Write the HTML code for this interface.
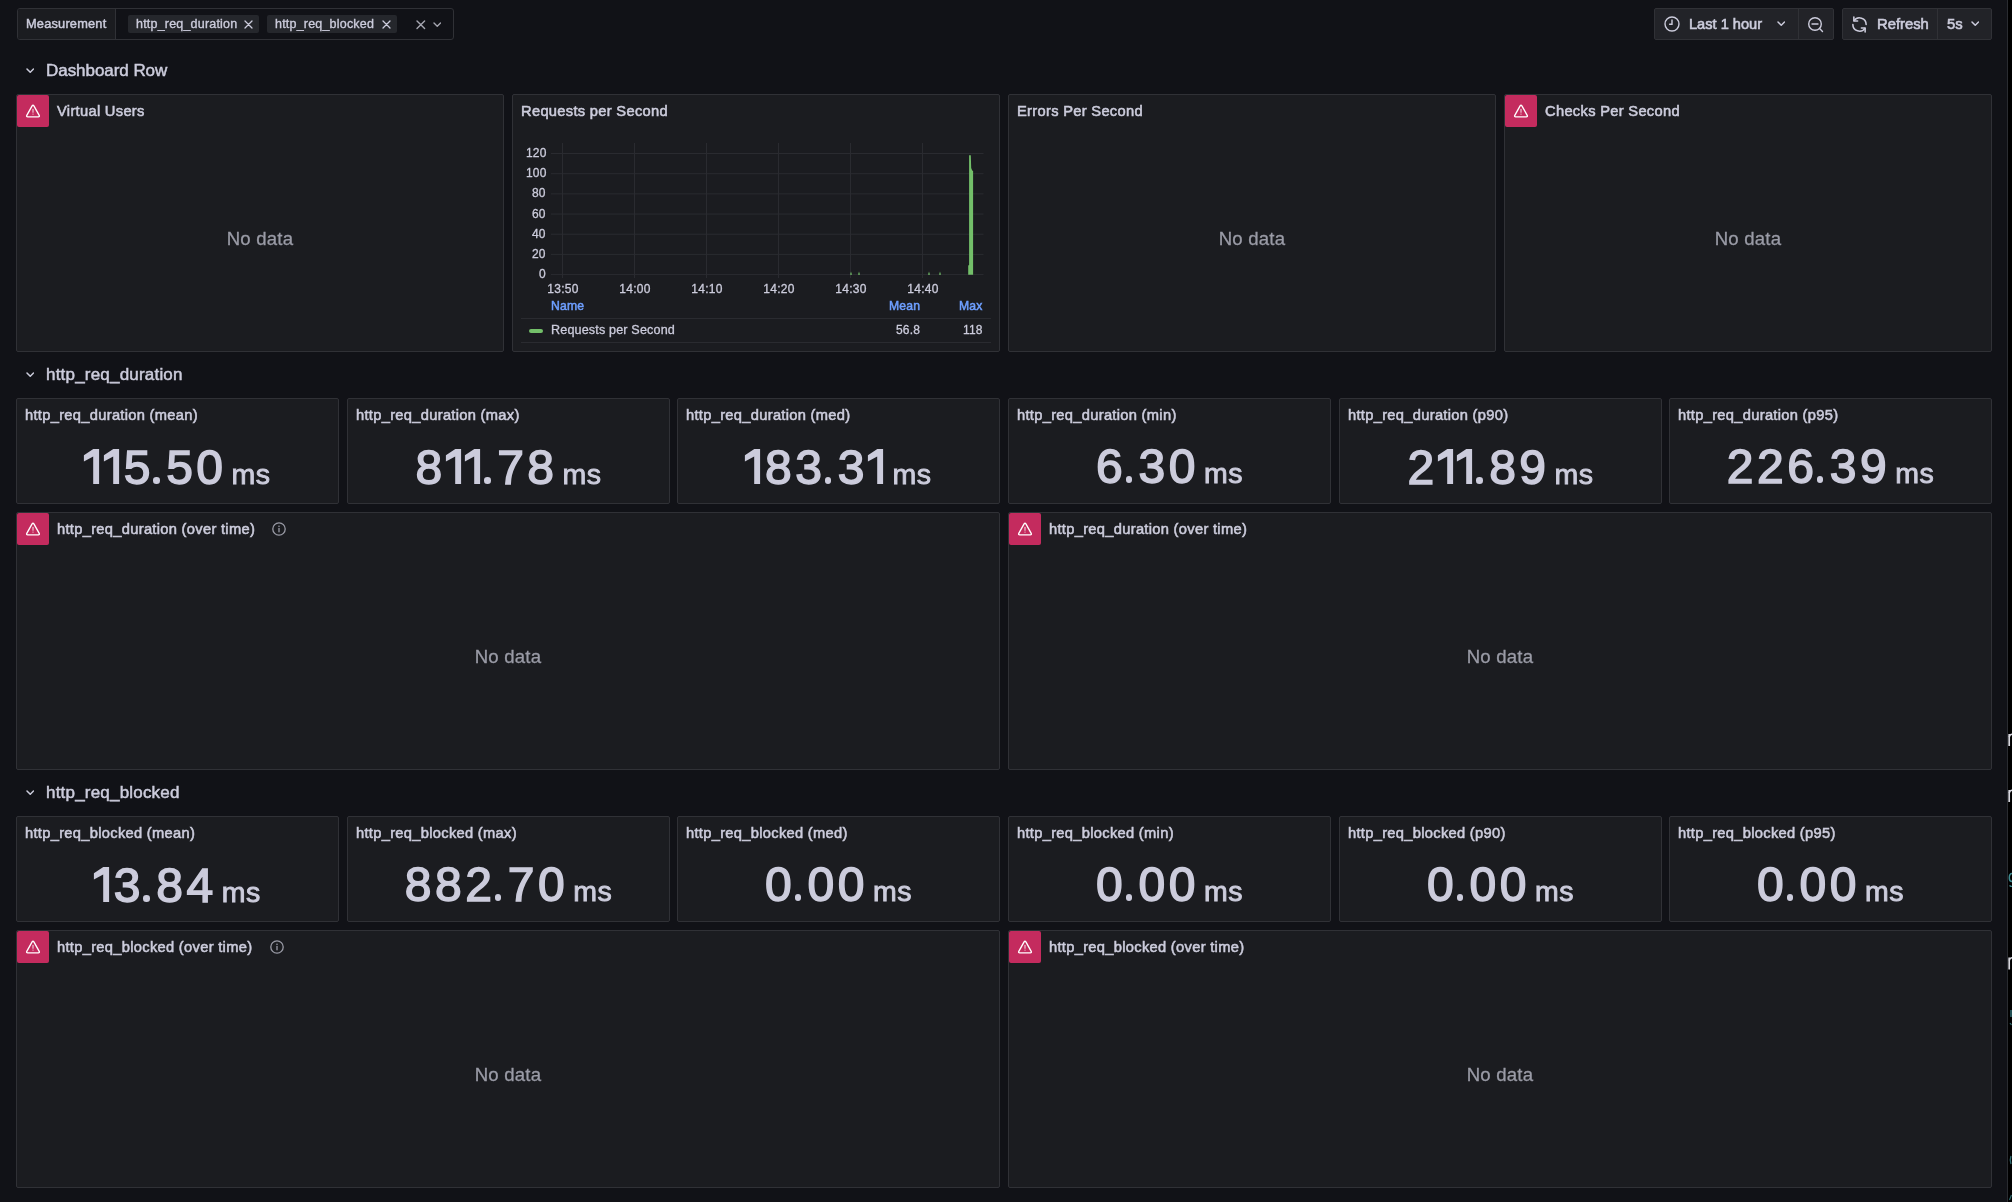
<!DOCTYPE html>
<html><head><meta charset="utf-8"><title>Grafana</title>
<style>
html,body{margin:0;padding:0;}
body{width:2012px;height:1202px;overflow:hidden;background:#111217;position:relative;font-family:"Liberation Sans", sans-serif;}
.t{position:absolute;white-space:nowrap;line-height:1;will-change:transform;}
svg{display:block;}
</style></head><body>
<div style="position:absolute;left:17px;top:8px;width:437px;height:32px;border:1px solid #303136;border-radius:3px;box-sizing:border-box;"></div>
<div style="position:absolute;left:18px;top:9px;width:98px;height:30px;background:#1b1c20;border-right:1px solid #303136;box-sizing:border-box;border-radius:2px 0 0 2px;"></div>
<div class="t" style="left:25.90px;top:16.00px;font-size:12.8px;color:#ccccdc;font-weight:400;line-height:15px;-webkit-text-stroke:0.45px #ccccdc;letter-spacing:0.2px;">Measurement</div>
<div style="position:absolute;left:128px;top:15px;width:131px;height:18px;background:#25272c;border-radius:2px;"></div>
<div class="t" style="left:136.00px;top:17.00px;font-size:12.5px;color:#ccccdc;font-weight:400;line-height:14px;-webkit-text-stroke:0.35px #ccccdc;letter-spacing:0.2px;">http_req_duration</div>
<svg style="position:absolute;left:243.5px;top:19.7px" width="9" height="9"><path d="M1 1 L8 8 M8 1 L1 8" fill="none" stroke="#ccccdc" stroke-width="1.3" stroke-linecap="round"/></svg>
<div style="position:absolute;left:267px;top:15px;width:130px;height:18px;background:#25272c;border-radius:2px;"></div>
<div class="t" style="left:275.00px;top:17.00px;font-size:12.5px;color:#ccccdc;font-weight:400;line-height:14px;-webkit-text-stroke:0.35px #ccccdc;letter-spacing:0.2px;">http_req_blocked</div>
<svg style="position:absolute;left:381.5px;top:19.7px" width="9" height="9"><path d="M1 1 L8 8 M8 1 L1 8" fill="none" stroke="#ccccdc" stroke-width="1.3" stroke-linecap="round"/></svg>
<svg style="position:absolute;left:416.0px;top:20.099999999999998px" width="9.6" height="9.6"><path d="M1 1 L8.6 8.6 M8.6 1 L1 8.6" fill="none" stroke="#a5a6b0" stroke-width="1.4" stroke-linecap="round"/></svg>
<svg style="position:absolute;left:432.55px;top:22.475px" width="8.5" height="5.25"><path d="M1 1 L4.25 4.25 L7.5 1" fill="none" stroke="#a5a6b0" stroke-width="1.4" stroke-linecap="round" stroke-linejoin="round"/></svg>
<div style="position:absolute;left:1654px;top:8px;width:180px;height:32px;background:#222328;border:1px solid #303136;border-radius:2px;box-sizing:border-box;"></div>
<div style="position:absolute;left:1798px;top:9px;width:1px;height:30px;background:#303136;"></div>
<svg style="position:absolute;left:1663px;top:15px" width="18" height="18" viewBox="0 0 18 18"><circle cx="9" cy="9" r="7" fill="none" stroke="#ccccdc" stroke-width="1.4"/><path d="M9 5 V9.3 H6.6" fill="none" stroke="#ccccdc" stroke-width="1.4" stroke-linecap="round"/></svg>
<div class="t" style="left:1689.00px;top:16.00px;font-size:14.6px;color:#ccccdc;font-weight:400;line-height:16px;-webkit-text-stroke:0.6px #ccccdc;">Last 1 hour</div>
<svg style="position:absolute;left:1776.55px;top:21.475px" width="8.5" height="5.25"><path d="M1 1 L4.25 4.25 L7.5 1" fill="none" stroke="#ccccdc" stroke-width="1.5" stroke-linecap="round" stroke-linejoin="round"/></svg>
<svg style="position:absolute;left:1806px;top:15px" width="20" height="20" viewBox="0 0 20 20"><circle cx="9" cy="9" r="6.3" fill="none" stroke="#ccccdc" stroke-width="1.4"/><path d="M6 9 H12" stroke="#ccccdc" stroke-width="1.4" stroke-linecap="round"/><path d="M13.6 13.6 L16.5 16.5" stroke="#ccccdc" stroke-width="1.4" stroke-linecap="round"/></svg>
<div style="position:absolute;left:1842px;top:8px;width:150px;height:32px;background:#222328;border:1px solid #303136;border-radius:2px;box-sizing:border-box;"></div>
<div style="position:absolute;left:1937px;top:9px;width:1px;height:30px;background:#303136;"></div>
<svg style="position:absolute;left:1849px;top:14px;transform:scaleX(-1)" width="21" height="21" viewBox="0 0 19 19"><path d="M15.5 9.5 A6 6 0 0 1 4.6 13" fill="none" stroke="#ccccdc" stroke-width="1.4" stroke-linecap="round"/><path d="M3.5 9.5 A6 6 0 0 1 14.4 6" fill="none" stroke="#ccccdc" stroke-width="1.4" stroke-linecap="round"/><path d="M14.6 2.8 V6.3 H11.2" fill="none" stroke="#ccccdc" stroke-width="1.4" stroke-linecap="round" stroke-linejoin="round"/><path d="M4.4 16.2 V12.7 H7.8" fill="none" stroke="#ccccdc" stroke-width="1.4" stroke-linecap="round" stroke-linejoin="round"/></svg>
<div class="t" style="left:1876.60px;top:16.00px;font-size:14.8px;color:#ccccdc;font-weight:400;line-height:16px;-webkit-text-stroke:0.6px #ccccdc;">Refresh</div>
<div class="t" style="left:1947.00px;top:16.00px;font-size:14.8px;color:#ccccdc;font-weight:400;line-height:16px;-webkit-text-stroke:0.6px #ccccdc;">5s</div>
<svg style="position:absolute;left:1970.55px;top:21.475px" width="8.5" height="5.25"><path d="M1 1 L4.25 4.25 L7.5 1" fill="none" stroke="#ccccdc" stroke-width="1.5" stroke-linecap="round" stroke-linejoin="round"/></svg>
<div style="position:absolute;left:2007px;top:0px;width:1px;height:1202px;background:#2a2c31;"></div>
<div style="position:absolute;left:2008px;top:0px;width:4px;height:1202px;background:#000;"></div>
<svg style="position:absolute;left:2008px;top:0" width="4" height="1202"><path d="M1.2 734 V746" stroke="#d8d8e0" stroke-width="1.7"/><path d="M1.2 737 Q2.2 734.3 4 734.3" fill="none" stroke="#d8d8e0" stroke-width="1.5"/><path d="M1.2 790 V802" stroke="#d8d8e0" stroke-width="1.7"/><path d="M1.2 793 Q2.2 790.3 4 790.3" fill="none" stroke="#d8d8e0" stroke-width="1.5"/><path d="M1.2 957.5 V969.5" stroke="#d8d8e0" stroke-width="1.7"/><path d="M1.2 960.5 Q2.2 957.8 4 957.8" fill="none" stroke="#d8d8e0" stroke-width="1.5"/><path d="M4 873.5 Q1.3 873.5 1.3 878 Q1.3 881.5 4 881.5" fill="none" stroke="#3e8b90" stroke-width="1.5"/><path d="M1.5 885.5 Q2.5 886.5 4 886.5" fill="none" stroke="#3e8b90" stroke-width="1.2"/><path d="M3 1010 V1017" stroke="#2f6d72" stroke-width="1.5"/><path d="M2 1023 L3.5 1025" stroke="#2f6d72" stroke-width="1.2"/><path d="M3 1156 Q1.5 1160 3 1164" fill="none" stroke="#2f6d72" stroke-width="1.3"/><path d="M1.5 1200 L3.5 1195" stroke="#2f6d72" stroke-width="1.2"/></svg>
<svg style="position:absolute;left:25.65px;top:68.175px" width="8.5" height="5.25"><path d="M1 1 L4.25 4.25 L7.5 1" fill="none" stroke="#ccccdc" stroke-width="1.5" stroke-linecap="round" stroke-linejoin="round"/></svg>
<div class="t" style="left:46.00px;top:61.00px;font-size:17px;color:#ccccdc;font-weight:400;line-height:19px;-webkit-text-stroke:0.5px #ccccdc;letter-spacing:-0.05px;">Dashboard Row</div>
<svg style="position:absolute;left:25.65px;top:372.175px" width="8.5" height="5.25"><path d="M1 1 L4.25 4.25 L7.5 1" fill="none" stroke="#ccccdc" stroke-width="1.5" stroke-linecap="round" stroke-linejoin="round"/></svg>
<div class="t" style="left:46.00px;top:365.00px;font-size:17px;color:#ccccdc;font-weight:400;line-height:19px;-webkit-text-stroke:0.5px #ccccdc;letter-spacing:0.2px;">http_req_duration</div>
<svg style="position:absolute;left:25.65px;top:790.175px" width="8.5" height="5.25"><path d="M1 1 L4.25 4.25 L7.5 1" fill="none" stroke="#ccccdc" stroke-width="1.5" stroke-linecap="round" stroke-linejoin="round"/></svg>
<div class="t" style="left:46.00px;top:783.00px;font-size:17px;color:#ccccdc;font-weight:400;line-height:19px;-webkit-text-stroke:0.5px #ccccdc;letter-spacing:0.2px;">http_req_blocked</div>
<div style="position:absolute;left:16px;top:94px;width:488px;height:258px;background:#1b1c20;border:1px solid #303136;border-radius:2px;box-sizing:border-box;"></div>
<div style="position:absolute;left:512px;top:94px;width:488px;height:258px;background:#1b1c20;border:1px solid #303136;border-radius:2px;box-sizing:border-box;"></div>
<div style="position:absolute;left:1008px;top:94px;width:488px;height:258px;background:#1b1c20;border:1px solid #303136;border-radius:2px;box-sizing:border-box;"></div>
<div style="position:absolute;left:1504px;top:94px;width:488px;height:258px;background:#1b1c20;border:1px solid #303136;border-radius:2px;box-sizing:border-box;"></div>
<div style="position:absolute;left:17px;top:95px;width:32px;height:32px;background:#c42b5e;border-radius:2px;display:flex;align-items:center;justify-content:center"><svg width="16" height="16" viewBox="0 0 16 16"><path d="M7.1 2.9 Q8 1.6 8.9 2.9 L14.2 12.3 Q14.9 13.8 13.3 13.8 L2.7 13.8 Q1.1 13.8 1.8 12.3 Z" fill="none" stroke="#fff" stroke-width="1.35" stroke-linejoin="round"/><path d="M8 6.4 V9.2" stroke="#f3d6e0" stroke-width="1.1" stroke-linecap="round"/><circle cx="8" cy="11.1" r="0.6" fill="#f3d6e0"/></svg></div>
<div class="t" style="left:57.00px;top:103.00px;font-size:14.7px;color:#ccccdc;font-weight:400;line-height:16px;-webkit-text-stroke:0.55px #ccccdc;letter-spacing:0.3px;">Virtual Users</div>
<div class="t" style="left:260.00px;transform:translateX(-50%);top:228.00px;font-size:18.6px;color:#9a9ba6;font-weight:400;line-height:21px;-webkit-text-stroke:0.3px #9a9ba6;letter-spacing:0.2px;">No data</div>
<div class="t" style="left:521.00px;top:103.00px;font-size:14.7px;color:#ccccdc;font-weight:400;line-height:16px;-webkit-text-stroke:0.55px #ccccdc;letter-spacing:0.3px;">Requests per Second</div>
<div class="t" style="left:1017.00px;top:103.00px;font-size:14.7px;color:#ccccdc;font-weight:400;line-height:16px;-webkit-text-stroke:0.55px #ccccdc;letter-spacing:0.3px;">Errors Per Second</div>
<div class="t" style="left:1252.00px;transform:translateX(-50%);top:228.00px;font-size:18.6px;color:#9a9ba6;font-weight:400;line-height:21px;-webkit-text-stroke:0.3px #9a9ba6;letter-spacing:0.2px;">No data</div>
<div style="position:absolute;left:1505px;top:95px;width:32px;height:32px;background:#c42b5e;border-radius:2px;display:flex;align-items:center;justify-content:center"><svg width="16" height="16" viewBox="0 0 16 16"><path d="M7.1 2.9 Q8 1.6 8.9 2.9 L14.2 12.3 Q14.9 13.8 13.3 13.8 L2.7 13.8 Q1.1 13.8 1.8 12.3 Z" fill="none" stroke="#fff" stroke-width="1.35" stroke-linejoin="round"/><path d="M8 6.4 V9.2" stroke="#f3d6e0" stroke-width="1.1" stroke-linecap="round"/><circle cx="8" cy="11.1" r="0.6" fill="#f3d6e0"/></svg></div>
<div class="t" style="left:1545.00px;top:103.00px;font-size:14.7px;color:#ccccdc;font-weight:400;line-height:16px;-webkit-text-stroke:0.55px #ccccdc;letter-spacing:0.3px;">Checks Per Second</div>
<div class="t" style="left:1748.00px;transform:translateX(-50%);top:228.00px;font-size:18.6px;color:#9a9ba6;font-weight:400;line-height:21px;-webkit-text-stroke:0.3px #9a9ba6;letter-spacing:0.2px;">No data</div>
<svg style="position:absolute;left:0;top:0" width="2012" height="400"><line x1="551" x2="983.5" y1="153.50" y2="153.50" stroke="#2a2b30" stroke-width="1"/><line x1="551" x2="983.5" y1="173.68" y2="173.68" stroke="#2a2b30" stroke-width="1"/><line x1="551" x2="983.5" y1="193.86" y2="193.86" stroke="#2a2b30" stroke-width="1"/><line x1="551" x2="983.5" y1="214.04" y2="214.04" stroke="#2a2b30" stroke-width="1"/><line x1="551" x2="983.5" y1="234.22" y2="234.22" stroke="#2a2b30" stroke-width="1"/><line x1="551" x2="983.5" y1="254.40" y2="254.40" stroke="#2a2b30" stroke-width="1"/><line x1="551" x2="983.5" y1="274.58" y2="274.58" stroke="#2a2b30" stroke-width="1"/><line x1="562.5" x2="562.5" y1="143" y2="278" stroke="#2a2b30" stroke-width="1"/><line x1="634.5" x2="634.5" y1="143" y2="278" stroke="#2a2b30" stroke-width="1"/><line x1="706.5" x2="706.5" y1="143" y2="278" stroke="#2a2b30" stroke-width="1"/><line x1="778.5" x2="778.5" y1="143" y2="278" stroke="#2a2b30" stroke-width="1"/><line x1="850.5" x2="850.5" y1="143" y2="278" stroke="#2a2b30" stroke-width="1"/><line x1="922.5" x2="922.5" y1="143" y2="278" stroke="#2a2b30" stroke-width="1"/><polygon points="968.2,274.7 968.2,265.5 969.1,265 969.1,155.3 970.8,155.3 971.2,168 972.2,170.6 973.1,171 973.1,274.7" fill="#73bf69"/><polygon points="850,274.7 851,271.5 852,274.7" fill="#73bf69"/><polygon points="858,274.7 859,271.5 860,274.7" fill="#73bf69"/><polygon points="928,274.7 929,271.5 930,274.7" fill="#73bf69"/><polygon points="939,274.7 940,271.5 941,274.7" fill="#73bf69"/><line x1="521" x2="991" y1="318.5" y2="318.5" stroke="#2a2b30" stroke-width="1"/><line x1="521" x2="991" y1="342.5" y2="342.5" stroke="#2a2b30" stroke-width="1"/><rect x="529" y="329" width="14" height="4" rx="2" fill="#73bf69"/></svg>
<div class="t" style="right:1465.80px;top:146.00px;font-size:12px;color:#ccccdc;font-weight:400;line-height:14px;-webkit-text-stroke:0.3px #ccccdc;letter-spacing:0.2px;">120</div>
<div class="t" style="right:1465.80px;top:166.00px;font-size:12px;color:#ccccdc;font-weight:400;line-height:14px;-webkit-text-stroke:0.3px #ccccdc;letter-spacing:0.2px;">100</div>
<div class="t" style="right:1465.80px;top:186.00px;font-size:12px;color:#ccccdc;font-weight:400;line-height:14px;-webkit-text-stroke:0.3px #ccccdc;letter-spacing:0.2px;">80</div>
<div class="t" style="right:1465.80px;top:207.00px;font-size:12px;color:#ccccdc;font-weight:400;line-height:14px;-webkit-text-stroke:0.3px #ccccdc;letter-spacing:0.2px;">60</div>
<div class="t" style="right:1465.80px;top:227.00px;font-size:12px;color:#ccccdc;font-weight:400;line-height:14px;-webkit-text-stroke:0.3px #ccccdc;letter-spacing:0.2px;">40</div>
<div class="t" style="right:1465.80px;top:247.00px;font-size:12px;color:#ccccdc;font-weight:400;line-height:14px;-webkit-text-stroke:0.3px #ccccdc;letter-spacing:0.2px;">20</div>
<div class="t" style="right:1465.80px;top:267.00px;font-size:12px;color:#ccccdc;font-weight:400;line-height:14px;-webkit-text-stroke:0.3px #ccccdc;letter-spacing:0.2px;">0</div>
<div class="t" style="left:562.50px;transform:translateX(-50%);top:282.00px;font-size:12px;color:#ccccdc;font-weight:400;line-height:14px;-webkit-text-stroke:0.3px #ccccdc;letter-spacing:0.3px;">13:50</div>
<div class="t" style="left:634.50px;transform:translateX(-50%);top:282.00px;font-size:12px;color:#ccccdc;font-weight:400;line-height:14px;-webkit-text-stroke:0.3px #ccccdc;letter-spacing:0.3px;">14:00</div>
<div class="t" style="left:706.50px;transform:translateX(-50%);top:282.00px;font-size:12px;color:#ccccdc;font-weight:400;line-height:14px;-webkit-text-stroke:0.3px #ccccdc;letter-spacing:0.3px;">14:10</div>
<div class="t" style="left:778.50px;transform:translateX(-50%);top:282.00px;font-size:12px;color:#ccccdc;font-weight:400;line-height:14px;-webkit-text-stroke:0.3px #ccccdc;letter-spacing:0.3px;">14:20</div>
<div class="t" style="left:850.50px;transform:translateX(-50%);top:282.00px;font-size:12px;color:#ccccdc;font-weight:400;line-height:14px;-webkit-text-stroke:0.3px #ccccdc;letter-spacing:0.3px;">14:30</div>
<div class="t" style="left:922.50px;transform:translateX(-50%);top:282.00px;font-size:12px;color:#ccccdc;font-weight:400;line-height:14px;-webkit-text-stroke:0.3px #ccccdc;letter-spacing:0.3px;">14:40</div>
<div class="t" style="left:551.20px;top:299.00px;font-size:12.2px;color:#6e9fff;font-weight:400;line-height:14px;-webkit-text-stroke:0.5px #6e9fff;letter-spacing:0.15px;">Name</div>
<div class="t" style="right:1092.40px;top:299.00px;font-size:12.2px;color:#6e9fff;font-weight:400;line-height:14px;-webkit-text-stroke:0.5px #6e9fff;letter-spacing:0.15px;">Mean</div>
<div class="t" style="right:1029.40px;top:299.00px;font-size:12.2px;color:#6e9fff;font-weight:400;line-height:14px;-webkit-text-stroke:0.5px #6e9fff;letter-spacing:0.15px;">Max</div>
<div class="t" style="left:551.20px;top:323.00px;font-size:12.6px;color:#ccccdc;font-weight:400;line-height:14px;-webkit-text-stroke:0.3px #ccccdc;letter-spacing:0.15px;">Requests per Second</div>
<div class="t" style="right:1092.40px;top:323.00px;font-size:12px;color:#ccccdc;font-weight:400;line-height:14px;-webkit-text-stroke:0.3px #ccccdc;letter-spacing:0.15px;">56.8</div>
<div class="t" style="right:1029.40px;top:323.00px;font-size:12px;color:#ccccdc;font-weight:400;line-height:14px;-webkit-text-stroke:0.3px #ccccdc;letter-spacing:0.15px;">118</div>
<div style="position:absolute;left:16px;top:398px;width:323px;height:106px;background:#1b1c20;border:1px solid #303136;border-radius:2px;box-sizing:border-box;"></div>
<div class="t" style="left:25.00px;top:407.00px;font-size:14.7px;color:#ccccdc;font-weight:400;line-height:16px;-webkit-text-stroke:0.55px #ccccdc;letter-spacing:0.3px;">http_req_duration (mean)</div>
<div class="t" style="left:16px;width:323px;top:443.00px;display:flex;justify-content:center;align-items:baseline;color:#ccccdc"><span style="font-size:48px;font-weight:400;line-height:48px;letter-spacing:3.5px;-webkit-text-stroke:1.5px #ccccdc"><svg width="19.6" height="41" viewBox="0 0 19.6 41" style="display:inline-block;vertical-align:baseline;overflow:visible"><path d="M-0.1 12.2 L9.3 6 H15.1 V41 H9.2 V13.4 L-0.1 18.6 Z" fill="#ccccdc"/></svg><svg width="19.6" height="41" viewBox="0 0 19.6 41" style="display:inline-block;vertical-align:baseline;overflow:visible"><path d="M-0.1 12.2 L9.3 6 H15.1 V41 H9.2 V13.4 L-0.1 18.6 Z" fill="#ccccdc"/></svg>5<span style="display:inline-block;width:14px;height:0;position:relative;margin-left:-1.7px"><i style="position:absolute;left:1.0px;bottom:0;width:6.6px;height:6.6px;border-radius:50%;background:#ccccdc"></i></span>50</span><span style="font-size:28.5px;font-weight:400;margin-left:5.0px;line-height:48px;letter-spacing:0.5px;-webkit-text-stroke:0.9px #ccccdc">ms</span></div>
<div style="position:absolute;left:347px;top:398px;width:323px;height:106px;background:#1b1c20;border:1px solid #303136;border-radius:2px;box-sizing:border-box;"></div>
<div class="t" style="left:356.00px;top:407.00px;font-size:14.7px;color:#ccccdc;font-weight:400;line-height:16px;-webkit-text-stroke:0.55px #ccccdc;letter-spacing:0.3px;">http_req_duration (max)</div>
<div class="t" style="left:347px;width:323px;top:443.00px;display:flex;justify-content:center;align-items:baseline;color:#ccccdc"><span style="font-size:48px;font-weight:400;line-height:48px;letter-spacing:3.5px;-webkit-text-stroke:1.5px #ccccdc">8<svg width="19.6" height="41" viewBox="0 0 19.6 41" style="display:inline-block;vertical-align:baseline;overflow:visible"><path d="M-0.1 12.2 L9.3 6 H15.1 V41 H9.2 V13.4 L-0.1 18.6 Z" fill="#ccccdc"/></svg><svg width="19.6" height="41" viewBox="0 0 19.6 41" style="display:inline-block;vertical-align:baseline;overflow:visible"><path d="M-0.1 12.2 L9.3 6 H15.1 V41 H9.2 V13.4 L-0.1 18.6 Z" fill="#ccccdc"/></svg><span style="display:inline-block;width:14px;height:0;position:relative;margin-left:-1.7px"><i style="position:absolute;left:1.0px;bottom:0;width:6.6px;height:6.6px;border-radius:50%;background:#ccccdc"></i></span>78</span><span style="font-size:28.5px;font-weight:400;margin-left:5.0px;line-height:48px;letter-spacing:0.5px;-webkit-text-stroke:0.9px #ccccdc">ms</span></div>
<div style="position:absolute;left:677px;top:398px;width:323px;height:106px;background:#1b1c20;border:1px solid #303136;border-radius:2px;box-sizing:border-box;"></div>
<div class="t" style="left:686.00px;top:407.00px;font-size:14.7px;color:#ccccdc;font-weight:400;line-height:16px;-webkit-text-stroke:0.55px #ccccdc;letter-spacing:0.3px;">http_req_duration (med)</div>
<div class="t" style="left:677px;width:323px;top:443.00px;display:flex;justify-content:center;align-items:baseline;color:#ccccdc"><span style="font-size:48px;font-weight:400;line-height:48px;letter-spacing:3.5px;-webkit-text-stroke:1.5px #ccccdc"><svg width="19.6" height="41" viewBox="0 0 19.6 41" style="display:inline-block;vertical-align:baseline;overflow:visible"><path d="M-0.1 12.2 L9.3 6 H15.1 V41 H9.2 V13.4 L-0.1 18.6 Z" fill="#ccccdc"/></svg>83<span style="display:inline-block;width:14px;height:0;position:relative;margin-left:-1.7px"><i style="position:absolute;left:1.0px;bottom:0;width:6.6px;height:6.6px;border-radius:50%;background:#ccccdc"></i></span>3<svg width="19.6" height="41" viewBox="0 0 19.6 41" style="display:inline-block;vertical-align:baseline;overflow:visible"><path d="M-0.1 12.2 L9.3 6 H15.1 V41 H9.2 V13.4 L-0.1 18.6 Z" fill="#ccccdc"/></svg></span><span style="font-size:28.5px;font-weight:400;margin-left:5.0px;line-height:48px;letter-spacing:0.5px;-webkit-text-stroke:0.9px #ccccdc">ms</span></div>
<div style="position:absolute;left:1008px;top:398px;width:323px;height:106px;background:#1b1c20;border:1px solid #303136;border-radius:2px;box-sizing:border-box;"></div>
<div class="t" style="left:1017.00px;top:407.00px;font-size:14.7px;color:#ccccdc;font-weight:400;line-height:16px;-webkit-text-stroke:0.55px #ccccdc;letter-spacing:0.3px;">http_req_duration (min)</div>
<div class="t" style="left:1008px;width:323px;top:443.00px;display:flex;justify-content:center;align-items:baseline;color:#ccccdc"><span style="font-size:48px;font-weight:400;line-height:48px;letter-spacing:3.5px;-webkit-text-stroke:1.5px #ccccdc">6<span style="display:inline-block;width:14px;height:0;position:relative;margin-left:-1.7px"><i style="position:absolute;left:1.0px;bottom:0;width:6.6px;height:6.6px;border-radius:50%;background:#ccccdc"></i></span>30</span><span style="font-size:28.5px;font-weight:400;margin-left:5.0px;line-height:48px;letter-spacing:0.5px;-webkit-text-stroke:0.9px #ccccdc">ms</span></div>
<div style="position:absolute;left:1339px;top:398px;width:323px;height:106px;background:#1b1c20;border:1px solid #303136;border-radius:2px;box-sizing:border-box;"></div>
<div class="t" style="left:1348.00px;top:407.00px;font-size:14.7px;color:#ccccdc;font-weight:400;line-height:16px;-webkit-text-stroke:0.55px #ccccdc;letter-spacing:0.3px;">http_req_duration (p90)</div>
<div class="t" style="left:1339px;width:323px;top:443.00px;display:flex;justify-content:center;align-items:baseline;color:#ccccdc"><span style="font-size:48px;font-weight:400;line-height:48px;letter-spacing:3.5px;-webkit-text-stroke:1.5px #ccccdc">2<svg width="19.6" height="41" viewBox="0 0 19.6 41" style="display:inline-block;vertical-align:baseline;overflow:visible"><path d="M-0.1 12.2 L9.3 6 H15.1 V41 H9.2 V13.4 L-0.1 18.6 Z" fill="#ccccdc"/></svg><svg width="19.6" height="41" viewBox="0 0 19.6 41" style="display:inline-block;vertical-align:baseline;overflow:visible"><path d="M-0.1 12.2 L9.3 6 H15.1 V41 H9.2 V13.4 L-0.1 18.6 Z" fill="#ccccdc"/></svg><span style="display:inline-block;width:14px;height:0;position:relative;margin-left:-1.7px"><i style="position:absolute;left:1.0px;bottom:0;width:6.6px;height:6.6px;border-radius:50%;background:#ccccdc"></i></span>89</span><span style="font-size:28.5px;font-weight:400;margin-left:5.0px;line-height:48px;letter-spacing:0.5px;-webkit-text-stroke:0.9px #ccccdc">ms</span></div>
<div style="position:absolute;left:1669px;top:398px;width:323px;height:106px;background:#1b1c20;border:1px solid #303136;border-radius:2px;box-sizing:border-box;"></div>
<div class="t" style="left:1678.00px;top:407.00px;font-size:14.7px;color:#ccccdc;font-weight:400;line-height:16px;-webkit-text-stroke:0.55px #ccccdc;letter-spacing:0.3px;">http_req_duration (p95)</div>
<div class="t" style="left:1669px;width:323px;top:443.00px;display:flex;justify-content:center;align-items:baseline;color:#ccccdc"><span style="font-size:48px;font-weight:400;line-height:48px;letter-spacing:3.5px;-webkit-text-stroke:1.5px #ccccdc">226<span style="display:inline-block;width:14px;height:0;position:relative;margin-left:-1.7px"><i style="position:absolute;left:1.0px;bottom:0;width:6.6px;height:6.6px;border-radius:50%;background:#ccccdc"></i></span>39</span><span style="font-size:28.5px;font-weight:400;margin-left:5.0px;line-height:48px;letter-spacing:0.5px;-webkit-text-stroke:0.9px #ccccdc">ms</span></div>
<div style="position:absolute;left:16px;top:816px;width:323px;height:106px;background:#1b1c20;border:1px solid #303136;border-radius:2px;box-sizing:border-box;"></div>
<div class="t" style="left:25.00px;top:825.00px;font-size:14.7px;color:#ccccdc;font-weight:400;line-height:16px;-webkit-text-stroke:0.55px #ccccdc;letter-spacing:0.3px;">http_req_blocked (mean)</div>
<div class="t" style="left:16px;width:323px;top:861.00px;display:flex;justify-content:center;align-items:baseline;color:#ccccdc"><span style="font-size:48px;font-weight:400;line-height:48px;letter-spacing:3.5px;-webkit-text-stroke:1.5px #ccccdc"><svg width="19.6" height="41" viewBox="0 0 19.6 41" style="display:inline-block;vertical-align:baseline;overflow:visible"><path d="M-0.1 12.2 L9.3 6 H15.1 V41 H9.2 V13.4 L-0.1 18.6 Z" fill="#ccccdc"/></svg>3<span style="display:inline-block;width:14px;height:0;position:relative;margin-left:-1.7px"><i style="position:absolute;left:1.0px;bottom:0;width:6.6px;height:6.6px;border-radius:50%;background:#ccccdc"></i></span>84</span><span style="font-size:28.5px;font-weight:400;margin-left:5.0px;line-height:48px;letter-spacing:0.5px;-webkit-text-stroke:0.9px #ccccdc">ms</span></div>
<div style="position:absolute;left:347px;top:816px;width:323px;height:106px;background:#1b1c20;border:1px solid #303136;border-radius:2px;box-sizing:border-box;"></div>
<div class="t" style="left:356.00px;top:825.00px;font-size:14.7px;color:#ccccdc;font-weight:400;line-height:16px;-webkit-text-stroke:0.55px #ccccdc;letter-spacing:0.3px;">http_req_blocked (max)</div>
<div class="t" style="left:347px;width:323px;top:861.00px;display:flex;justify-content:center;align-items:baseline;color:#ccccdc"><span style="font-size:48px;font-weight:400;line-height:48px;letter-spacing:3.5px;-webkit-text-stroke:1.5px #ccccdc">882<span style="display:inline-block;width:14px;height:0;position:relative;margin-left:-1.7px"><i style="position:absolute;left:1.0px;bottom:0;width:6.6px;height:6.6px;border-radius:50%;background:#ccccdc"></i></span>70</span><span style="font-size:28.5px;font-weight:400;margin-left:5.0px;line-height:48px;letter-spacing:0.5px;-webkit-text-stroke:0.9px #ccccdc">ms</span></div>
<div style="position:absolute;left:677px;top:816px;width:323px;height:106px;background:#1b1c20;border:1px solid #303136;border-radius:2px;box-sizing:border-box;"></div>
<div class="t" style="left:686.00px;top:825.00px;font-size:14.7px;color:#ccccdc;font-weight:400;line-height:16px;-webkit-text-stroke:0.55px #ccccdc;letter-spacing:0.3px;">http_req_blocked (med)</div>
<div class="t" style="left:677px;width:323px;top:861.00px;display:flex;justify-content:center;align-items:baseline;color:#ccccdc"><span style="font-size:48px;font-weight:400;line-height:48px;letter-spacing:3.5px;-webkit-text-stroke:1.5px #ccccdc">0<span style="display:inline-block;width:14px;height:0;position:relative;margin-left:-1.7px"><i style="position:absolute;left:1.0px;bottom:0;width:6.6px;height:6.6px;border-radius:50%;background:#ccccdc"></i></span>00</span><span style="font-size:28.5px;font-weight:400;margin-left:5.0px;line-height:48px;letter-spacing:0.5px;-webkit-text-stroke:0.9px #ccccdc">ms</span></div>
<div style="position:absolute;left:1008px;top:816px;width:323px;height:106px;background:#1b1c20;border:1px solid #303136;border-radius:2px;box-sizing:border-box;"></div>
<div class="t" style="left:1017.00px;top:825.00px;font-size:14.7px;color:#ccccdc;font-weight:400;line-height:16px;-webkit-text-stroke:0.55px #ccccdc;letter-spacing:0.3px;">http_req_blocked (min)</div>
<div class="t" style="left:1008px;width:323px;top:861.00px;display:flex;justify-content:center;align-items:baseline;color:#ccccdc"><span style="font-size:48px;font-weight:400;line-height:48px;letter-spacing:3.5px;-webkit-text-stroke:1.5px #ccccdc">0<span style="display:inline-block;width:14px;height:0;position:relative;margin-left:-1.7px"><i style="position:absolute;left:1.0px;bottom:0;width:6.6px;height:6.6px;border-radius:50%;background:#ccccdc"></i></span>00</span><span style="font-size:28.5px;font-weight:400;margin-left:5.0px;line-height:48px;letter-spacing:0.5px;-webkit-text-stroke:0.9px #ccccdc">ms</span></div>
<div style="position:absolute;left:1339px;top:816px;width:323px;height:106px;background:#1b1c20;border:1px solid #303136;border-radius:2px;box-sizing:border-box;"></div>
<div class="t" style="left:1348.00px;top:825.00px;font-size:14.7px;color:#ccccdc;font-weight:400;line-height:16px;-webkit-text-stroke:0.55px #ccccdc;letter-spacing:0.3px;">http_req_blocked (p90)</div>
<div class="t" style="left:1339px;width:323px;top:861.00px;display:flex;justify-content:center;align-items:baseline;color:#ccccdc"><span style="font-size:48px;font-weight:400;line-height:48px;letter-spacing:3.5px;-webkit-text-stroke:1.5px #ccccdc">0<span style="display:inline-block;width:14px;height:0;position:relative;margin-left:-1.7px"><i style="position:absolute;left:1.0px;bottom:0;width:6.6px;height:6.6px;border-radius:50%;background:#ccccdc"></i></span>00</span><span style="font-size:28.5px;font-weight:400;margin-left:5.0px;line-height:48px;letter-spacing:0.5px;-webkit-text-stroke:0.9px #ccccdc">ms</span></div>
<div style="position:absolute;left:1669px;top:816px;width:323px;height:106px;background:#1b1c20;border:1px solid #303136;border-radius:2px;box-sizing:border-box;"></div>
<div class="t" style="left:1678.00px;top:825.00px;font-size:14.7px;color:#ccccdc;font-weight:400;line-height:16px;-webkit-text-stroke:0.55px #ccccdc;letter-spacing:0.3px;">http_req_blocked (p95)</div>
<div class="t" style="left:1669px;width:323px;top:861.00px;display:flex;justify-content:center;align-items:baseline;color:#ccccdc"><span style="font-size:48px;font-weight:400;line-height:48px;letter-spacing:3.5px;-webkit-text-stroke:1.5px #ccccdc">0<span style="display:inline-block;width:14px;height:0;position:relative;margin-left:-1.7px"><i style="position:absolute;left:1.0px;bottom:0;width:6.6px;height:6.6px;border-radius:50%;background:#ccccdc"></i></span>00</span><span style="font-size:28.5px;font-weight:400;margin-left:5.0px;line-height:48px;letter-spacing:0.5px;-webkit-text-stroke:0.9px #ccccdc">ms</span></div>
<div style="position:absolute;left:16px;top:512px;width:984px;height:258px;background:#1b1c20;border:1px solid #303136;border-radius:2px;box-sizing:border-box;"></div>
<div style="position:absolute;left:17px;top:513px;width:32px;height:32px;background:#c42b5e;border-radius:2px;display:flex;align-items:center;justify-content:center"><svg width="16" height="16" viewBox="0 0 16 16"><path d="M7.1 2.9 Q8 1.6 8.9 2.9 L14.2 12.3 Q14.9 13.8 13.3 13.8 L2.7 13.8 Q1.1 13.8 1.8 12.3 Z" fill="none" stroke="#fff" stroke-width="1.35" stroke-linejoin="round"/><path d="M8 6.4 V9.2" stroke="#f3d6e0" stroke-width="1.1" stroke-linecap="round"/><circle cx="8" cy="11.1" r="0.6" fill="#f3d6e0"/></svg></div>
<div class="t" style="left:508.00px;transform:translateX(-50%);top:646.00px;font-size:18.6px;color:#9a9ba6;font-weight:400;line-height:21px;-webkit-text-stroke:0.3px #9a9ba6;letter-spacing:0.2px;">No data</div>
<div style="position:absolute;left:1008px;top:512px;width:984px;height:258px;background:#1b1c20;border:1px solid #303136;border-radius:2px;box-sizing:border-box;"></div>
<div style="position:absolute;left:1009px;top:513px;width:32px;height:32px;background:#c42b5e;border-radius:2px;display:flex;align-items:center;justify-content:center"><svg width="16" height="16" viewBox="0 0 16 16"><path d="M7.1 2.9 Q8 1.6 8.9 2.9 L14.2 12.3 Q14.9 13.8 13.3 13.8 L2.7 13.8 Q1.1 13.8 1.8 12.3 Z" fill="none" stroke="#fff" stroke-width="1.35" stroke-linejoin="round"/><path d="M8 6.4 V9.2" stroke="#f3d6e0" stroke-width="1.1" stroke-linecap="round"/><circle cx="8" cy="11.1" r="0.6" fill="#f3d6e0"/></svg></div>
<div class="t" style="left:1500.00px;transform:translateX(-50%);top:646.00px;font-size:18.6px;color:#9a9ba6;font-weight:400;line-height:21px;-webkit-text-stroke:0.3px #9a9ba6;letter-spacing:0.2px;">No data</div>
<div class="t" style="left:57.00px;top:521.00px;font-size:14.7px;color:#ccccdc;font-weight:400;line-height:16px;-webkit-text-stroke:0.55px #ccccdc;letter-spacing:0.3px;">http_req_duration (over time)</div>
<div class="t" style="left:1049.00px;top:521.00px;font-size:14.7px;color:#ccccdc;font-weight:400;line-height:16px;-webkit-text-stroke:0.55px #ccccdc;letter-spacing:0.3px;">http_req_duration (over time)</div>
<svg style="position:absolute;left:271px;top:520.9px" width="16" height="16" viewBox="0 0 16 16"><circle cx="8" cy="8" r="6.2" fill="none" stroke="#9a9ba6" stroke-width="1.3"/><circle cx="8" cy="5.3" r="0.8" fill="#9a9ba6"/><path d="M8 7.4 V10.8" stroke="#9a9ba6" stroke-width="1.3" stroke-linecap="round"/></svg>
<div style="position:absolute;left:16px;top:930px;width:984px;height:258px;background:#1b1c20;border:1px solid #303136;border-radius:2px;box-sizing:border-box;"></div>
<div style="position:absolute;left:17px;top:931px;width:32px;height:32px;background:#c42b5e;border-radius:2px;display:flex;align-items:center;justify-content:center"><svg width="16" height="16" viewBox="0 0 16 16"><path d="M7.1 2.9 Q8 1.6 8.9 2.9 L14.2 12.3 Q14.9 13.8 13.3 13.8 L2.7 13.8 Q1.1 13.8 1.8 12.3 Z" fill="none" stroke="#fff" stroke-width="1.35" stroke-linejoin="round"/><path d="M8 6.4 V9.2" stroke="#f3d6e0" stroke-width="1.1" stroke-linecap="round"/><circle cx="8" cy="11.1" r="0.6" fill="#f3d6e0"/></svg></div>
<div class="t" style="left:508.00px;transform:translateX(-50%);top:1064.00px;font-size:18.6px;color:#9a9ba6;font-weight:400;line-height:21px;-webkit-text-stroke:0.3px #9a9ba6;letter-spacing:0.2px;">No data</div>
<div style="position:absolute;left:1008px;top:930px;width:984px;height:258px;background:#1b1c20;border:1px solid #303136;border-radius:2px;box-sizing:border-box;"></div>
<div style="position:absolute;left:1009px;top:931px;width:32px;height:32px;background:#c42b5e;border-radius:2px;display:flex;align-items:center;justify-content:center"><svg width="16" height="16" viewBox="0 0 16 16"><path d="M7.1 2.9 Q8 1.6 8.9 2.9 L14.2 12.3 Q14.9 13.8 13.3 13.8 L2.7 13.8 Q1.1 13.8 1.8 12.3 Z" fill="none" stroke="#fff" stroke-width="1.35" stroke-linejoin="round"/><path d="M8 6.4 V9.2" stroke="#f3d6e0" stroke-width="1.1" stroke-linecap="round"/><circle cx="8" cy="11.1" r="0.6" fill="#f3d6e0"/></svg></div>
<div class="t" style="left:1500.00px;transform:translateX(-50%);top:1064.00px;font-size:18.6px;color:#9a9ba6;font-weight:400;line-height:21px;-webkit-text-stroke:0.3px #9a9ba6;letter-spacing:0.2px;">No data</div>
<div class="t" style="left:57.00px;top:939.00px;font-size:14.7px;color:#ccccdc;font-weight:400;line-height:16px;-webkit-text-stroke:0.55px #ccccdc;letter-spacing:0.3px;">http_req_blocked (over time)</div>
<div class="t" style="left:1049.00px;top:939.00px;font-size:14.7px;color:#ccccdc;font-weight:400;line-height:16px;-webkit-text-stroke:0.55px #ccccdc;letter-spacing:0.3px;">http_req_blocked (over time)</div>
<svg style="position:absolute;left:269px;top:938.9px" width="16" height="16" viewBox="0 0 16 16"><circle cx="8" cy="8" r="6.2" fill="none" stroke="#9a9ba6" stroke-width="1.3"/><circle cx="8" cy="5.3" r="0.8" fill="#9a9ba6"/><path d="M8 7.4 V10.8" stroke="#9a9ba6" stroke-width="1.3" stroke-linecap="round"/></svg>
</body></html>
